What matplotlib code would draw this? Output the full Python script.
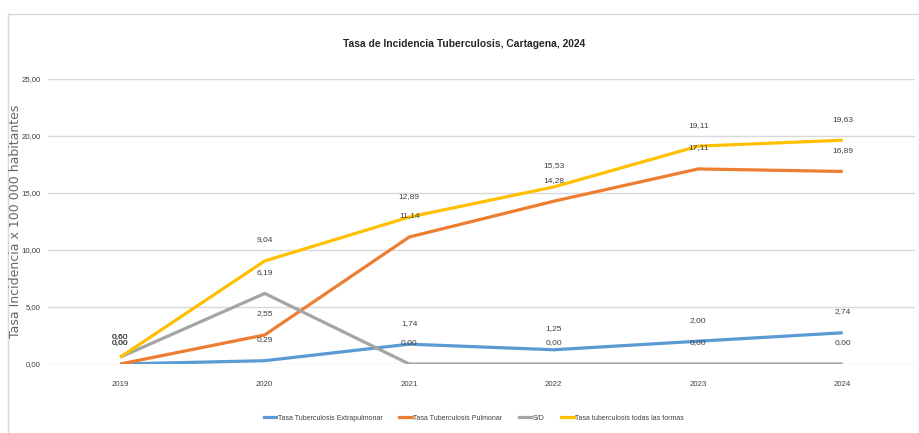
import matplotlib
matplotlib.use("Agg")
import matplotlib.pyplot as plt
from matplotlib import font_manager
from matplotlib.lines import Line2D

# ---- data ----
years = ["2019", "2020", "2021", "2022", "2023", "2024"]
extrapulmonar = [0.00, 0.29, 1.74, 1.25, 2.00, 2.74]
pulmonar = [0.00, 2.55, 11.14, 14.28, 17.11, 16.89]
sin_dato = [0.60, 6.19, 0.00, 0.00, 0.00, 0.00]
todas_formas = [0.60, 9.04, 12.89, 15.53, 19.11, 19.63]
series_names = ["Tasa Tuberculosis Extrapulmonar", "Tasa Tuberculosis Pulmonar",
                "S/D", "Tasa tuberculosis todas las formas"]
y_ticks = [0, 5, 10, 15, 20, 25]
title = "Tasa de Incidencia Tuberculosis, Cartagena, 2024"
y_label = "Tasa Incidencia x 100 000 habitantes"

available = {f.name for f in font_manager.fontManager.ttflist}
narrow = "Liberation Sans Narrow" if "Liberation Sans Narrow" in available else "Liberation Sans"
plt.rcParams['font.family'] = [narrow, 'DejaVu Sans']

colors = ["#5B9BD5", "#ED7D31", "#A5A5A5", "#FFC000"]
text_col = "#404040"
grid_col = "#D9D9D9"

fig = plt.figure(figsize=(9.2, 4.33), dpi=100)
ax = fig.add_axes([48 / 920, (433 - 364) / 433, (915 - 48) / 920, (364 - 79) / 433])

x = list(range(len(years)))
all_series = [extrapulmonar, pulmonar, sin_dato, todas_formas]
for vals, c, name in zip(all_series, colors, series_names):
    ax.plot(x, vals, color=c, lw=2.3, solid_capstyle='butt', label=name, zorder=3)

for vals in all_series:
    for xi, v in zip(x, vals):
        ax.annotate(f"{v:.2f}".replace(".", ","), (xi, v), xytext=(0, 21),
                    textcoords='offset pixels', ha='center', va='center',
                    fontsize=6, color=text_col, zorder=4)

ax.set_xlim(-0.5, len(years) - 0.5)
ax.set_ylim(0, 25)
ax.set_yticks(y_ticks)
ax.set_yticklabels([f"{t:.2f}".replace(".", ",") for t in y_ticks])
ax.set_xticks(x)
ax.set_xticklabels(years)
ax.tick_params(axis='both', length=0, labelsize=5.6, labelcolor=text_col)
ax.tick_params(axis='y', pad=5)
ax.tick_params(axis='x', pad=12)
ax.grid(axis='y', color=grid_col, lw=1)
ax.set_axisbelow(True)
for s in ax.spines.values():
    s.set_visible(False)

fig.text(16 / 920, 1 - 221 / 433, y_label, rotation=90, ha='center', va='center',
         family='DejaVu Sans', fontsize=9, color="#666666")

fig.text(0.505, 1 - 44 / 433, title, ha='center', va='center', fontsize=7.4,
         color="#262626", fontweight='bold')

handles = [Line2D([0], [0], color=c, lw=2.3) for c in colors]
fig.legend(handles, series_names, loc='center', bbox_to_anchor=(0.515, 1 - 418 / 433),
           ncol=4, frameon=False, fontsize=5.0, handlelength=1.8, handletextpad=0.2,
           columnspacing=2.4, labelcolor=text_col)

# chart border
fig.add_artist(Line2D([8 / 920, 1], [1 - 14 / 433, 1 - 14 / 433], color=grid_col, lw=1,
                      transform=fig.transFigure))
fig.add_artist(Line2D([8 / 920, 8 / 920], [0, 1 - 14 / 433], color=grid_col, lw=1,
                      transform=fig.transFigure))

fig.savefig("out.png", dpi=100, facecolor="white")
